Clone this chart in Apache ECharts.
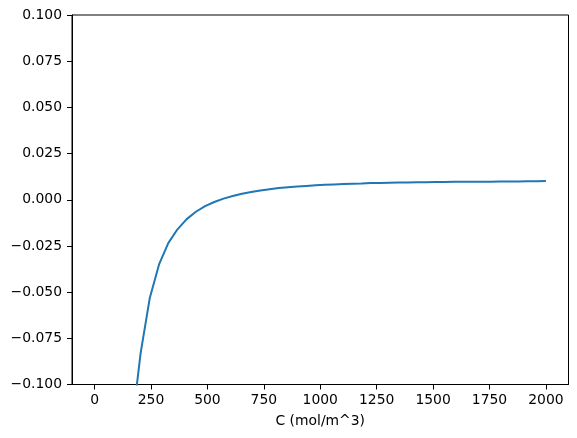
<!DOCTYPE html>
<html>
<head>
<meta charset="utf-8">
<script src="https://cdn.jsdelivr.net/npm/echarts@6/dist/echarts.min.js"></script>
<style>
html,body{margin:0;padding:0;background:#fff;}
#chart{width:577px;height:438px;}
</style>
</head>
<body>
<div id="chart"></div>
<script>
// Concentration values (mol/m^3)
const concentrations = [163.27, 204.08, 244.90, 285.71, 326.53, 367.35, 408.16, 448.98, 489.80, 530.61,
  571.43, 612.24, 653.06, 693.88, 734.69, 775.51, 816.33, 857.14, 897.96, 938.78,
  979.59, 1020.41, 1061.22, 1102.04, 1142.86, 1183.67, 1224.49, 1265.31, 1306.12, 1346.94,
  1387.76, 1428.57, 1469.39, 1510.20, 1551.02, 1591.84, 1632.65, 1673.47, 1714.29, 1755.10,
  1795.92, 1836.73, 1877.55, 1918.37, 1959.18, 2000.00];
// Series values
const values = [-0.125, -0.083, -0.053, -0.035, -0.0235, -0.0160, -0.0105, -0.0065, -0.0035, -0.0012,
  0.0006, 0.0020, 0.0032, 0.0042, 0.0050, 0.0057, 0.0063, 0.0068, 0.0072, 0.0075,
  0.0078, 0.0081, 0.0083, 0.0085, 0.0087, 0.0088, 0.0090, 0.0091, 0.0092, 0.0093,
  0.0094, 0.0095, 0.0095, 0.0096, 0.0096, 0.0097, 0.0097, 0.0098, 0.0098, 0.0098,
  0.0099, 0.0099, 0.0099, 0.0100, 0.0100, 0.0101];
// Tick values
const xTicks = [0, 250, 500, 750, 1000, 1250, 1500, 1750, 2000];
const yTicks = [-0.1, -0.075, -0.05, -0.025, 0, 0.025, 0.05, 0.075, 0.1];

const fontFamily = 'DejaVu Sans';
const fontSize = 13.9;
const chart = echarts.init(document.getElementById('chart'), null, {renderer: 'canvas'});
const fmtY = v => {
  const s = (Math.abs(v) < 1e-9 ? 0 : v).toFixed(3);
  return s.replace('-', '\u2212');
};
chart.setOption({
  animation: false,
  backgroundColor: '#fff',
  grid: {left: 72, right: 8.5, top: 15, bottom: 53.5, show: true, borderColor: '#000', borderWidth: 1, containLabel: false},
  xAxis: {
    type: 'value', min: -100, max: 2100,
    name: 'C (mol/m^3)', nameLocation: 'middle', nameGap: 30,
    nameTextStyle: {fontFamily, fontSize, color: '#000'},
    axisLine: {show: true, onZero: false, lineStyle: {color: '#000', width: 1}},
    axisTick: {show: true, inside: false, length: 5, lineStyle: {color: '#000', width: 1}, customValues: xTicks},
    axisLabel: {show: true, margin: 9, fontFamily, fontSize, color: '#000', customValues: xTicks, formatter: v => String(v)},
    splitLine: {show: false}
  },
  yAxis: {
    type: 'value', min: -0.1, max: 0.1, interval: 0.025,
    axisLine: {show: true, onZero: false, lineStyle: {color: '#000', width: 1}},
    axisTick: {show: true, inside: false, length: 5, lineStyle: {color: '#000', width: 1}, customValues: yTicks},
    axisLabel: {show: true, margin: 10, fontFamily, fontSize, color: '#000', customValues: yTicks, formatter: fmtY},
    splitLine: {show: false}
  },
  series: [{
    type: 'line',
    data: concentrations.map((c, i) => [c, values[i]]),
    showSymbol: false,
    clip: true,
    lineStyle: {color: '#1f77b4', width: 2},
    smooth: false
  }]
});
</script>
</body>
</html>
